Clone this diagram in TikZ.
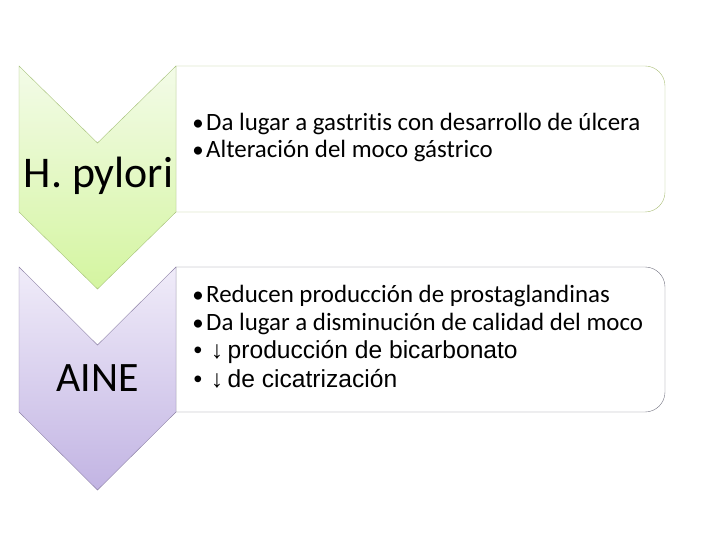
\documentclass[tikz,border=0pt]{standalone}
\usepackage{fontspec}
\setmainfont{Carlito}[Ligatures=NoCommon]
\newfontfamily\arialfont{Liberation Sans}
\usepackage{tikz}

\definecolor{greentop}{RGB}{243,251,232}
\definecolor{greenbot}{RGB}{212,245,160}
\definecolor{greenline}{RGB}{165,192,120}
\definecolor{greenbox}{RGB}{172,192,122}
\definecolor{purptop}{RGB}{240,236,249}
\definecolor{purpbot}{RGB}{194,180,227}
\definecolor{purpline}{RGB}{140,128,165}
\definecolor{purpbox}{RGB}{118,118,132}

\begin{document}
\begin{tikzpicture}[x=1bp,y=-1bp,
    chevgreen/.style={draw=greenline, top color=greentop, bottom color=greenbot},
    chevpurple/.style={draw=purpline, top color=purptop, bottom color=purpbot},
    lbl/.style={anchor=base, inner sep=0pt},
    itemtxt/.style={anchor=base west, inner sep=0pt, font=\fontsize{25}{28}\selectfont},
    itemdot/.style={anchor=base, inner sep=0pt, font=\fontsize{23}{28}\selectfont},
    armtxt/.style={anchor=base west, inner sep=0pt, font=\arialfont\fontsize{24.7}{28}\selectfont},
    armdot/.style={anchor=base, inner sep=0pt, font=\arialfont\fontsize{24.7}{28}\selectfont}]
    \useasboundingbox (0,0) rectangle (720,540);

    % boxes on the right
    \draw[draw=greenbox, fill=white] (176,66) -- (645,66) arc[start angle=-90, end angle=0, radius=20]
      -- (665,192) arc[start angle=0, end angle=90, radius=20] -- (176,212) -- cycle;
    \draw[draw=purpbox, fill=white] (176,267) -- (645,267) arc[start angle=-90, end angle=0, radius=20]
      -- (665,392) arc[start angle=0, end angle=90, radius=20] -- (176,412) -- cycle;

    % chevrons
    \draw[chevgreen] (19,66) -- (97.5,143) -- (176,66) -- (176,212) -- (97.5,289) -- (19,212) -- cycle;
    \draw[chevpurple] (19,267) -- (97.5,345) -- (176,267) -- (176,412) -- (97.5,490) -- (19,412) -- cycle;

    \node[lbl, font=\fontsize{44}{50}\selectfont] (hpylori) at (98.5,188) {H. pylori};
    \node[lbl, font=\fontsize{42}{50}\selectfont] (aine) at (97.5,391) {AINE};

    % H. pylori items
    \node[itemdot] (hpdot1) at (198,131) {•};
    \node[itemtxt] (hpitem1) at (206,131) {Da lugar a gastritis con desarrollo de úlcera};
    \node[itemdot] (hpdot2) at (198,158) {•};
    \node[itemtxt] (hpitem2) at (206,158) {Alteración del moco gástrico};

    % AINE items
    \node[itemdot] (ainedot1) at (198,302) {•};
    \node[itemtxt] (aineitem1) at (206,302) {Reducen producción de prostaglandinas};
    \node[itemdot] (ainedot2) at (198,330) {•};
    \node[itemtxt] (aineitem2) at (206,330) {Da lugar a disminución de calidad del moco};
    \node[armdot] (ainedot3) at (198,358.5) {•};
    \node[armdot] (ainearr3) at (217,358.5) {↓};
    \node[armtxt] (aineitem3) at (227.5,358.5) {producción de bicarbonato};
    \node[armdot] (ainedot4) at (198,387) {•};
    \node[armdot] (ainearr4) at (217,387) {↓};
    \node[armtxt] (aineitem4) at (227.5,387) {de cicatrización};
  \end{tikzpicture}
\end{document}
